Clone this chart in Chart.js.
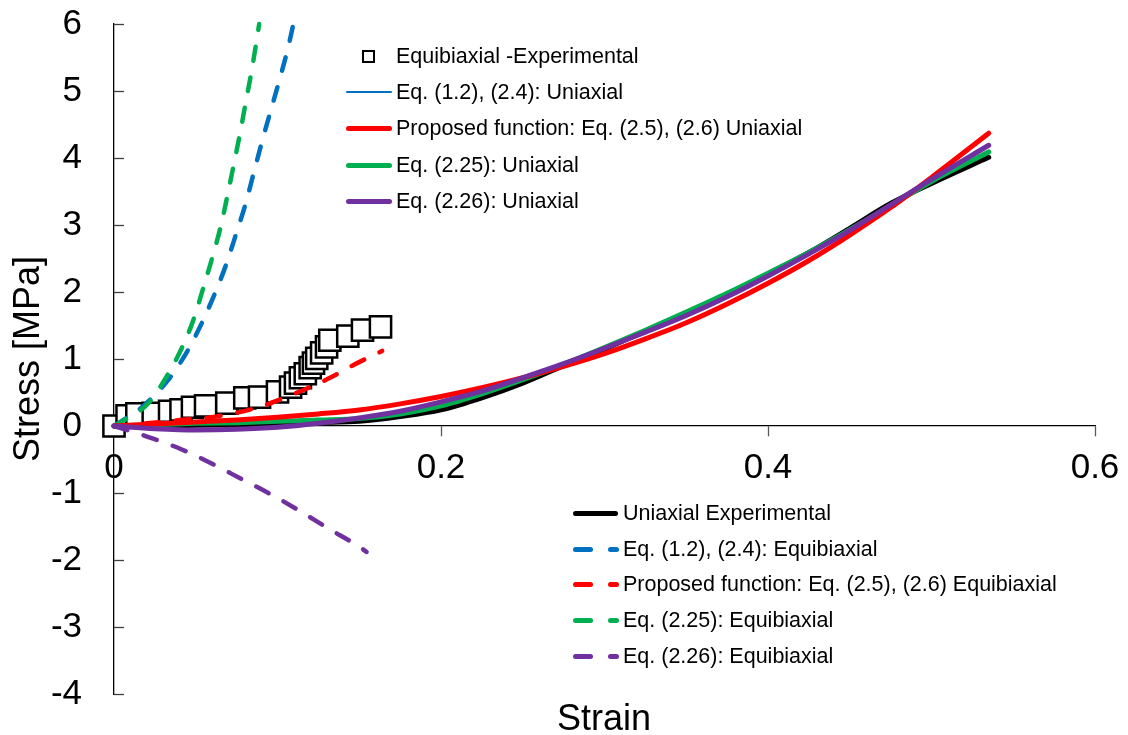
<!DOCTYPE html>
<html>
<head>
<meta charset="utf-8">
<script src="https://cdn.jsdelivr.net/npm/chart.js@4.4.1/dist/chart.umd.min.js"></script>
<style>
html,body{margin:0;padding:0;background:#fff;}
#wrap{position:relative;width:1128px;height:735px;overflow:hidden;}
#c{position:absolute;left:0;top:0;}
.lg{position:absolute;font-family:"Liberation Sans",Arial,sans-serif;font-size:21.5px;color:#000;white-space:nowrap;line-height:26px;height:26px;transform:translateY(-50%);}
.sw{position:absolute;}
#xtitle{position:absolute;font-family:"Liberation Sans",Arial,sans-serif;font-size:36px;line-height:1;color:#000;transform:translate(-50%,-50%);white-space:nowrap;}
</style>
</head>
<body>
<div id="wrap">
<canvas id="c" width="1128" height="735"></canvas>
<div id="legend"></div>
<div id="xtitle" style="left:604px;top:718px;">Strain</div>
</div>
<script>
// ---------- data ----------
const xTicks = [0, 0.2, 0.4, 0.6];
const yTicks = [-4, -3, -2, -1, 0, 1, 2, 3, 4, 5, 6];

const equiExpStrain = [0, 0.008, 0.014, 0.024, 0.034, 0.041, 0.048, 0.056, 0.069, 0.080, 0.089, 0.100, 0.108, 0.111, 0.114, 0.117, 0.120, 0.122, 0.124, 0.127, 0.130, 0.132, 0.143, 0.152, 0.163];
const equiExpStress = [0, 0.15, 0.18, 0.19, 0.22, 0.24, 0.28, 0.30, 0.34, 0.42, 0.43, 0.51, 0.58, 0.64, 0.72, 0.78, 0.87, 0.94, 1.01, 1.09, 1.18, 1.28, 1.34, 1.43, 1.48];

const uniStrain = [0, 0.025, 0.05, 0.075, 0.1, 0.125, 0.15, 0.175, 0.2, 0.225, 0.25, 0.275, 0.3, 0.325, 0.35, 0.375, 0.4, 0.425, 0.45, 0.475, 0.5, 0.535];
const uniExpStress    = [0, 0.00, 0.01, 0.02, 0.03, 0.05, 0.07, 0.14, 0.24, 0.42, 0.64, 0.90, 1.15, 1.42, 1.69, 1.97, 2.27, 2.59, 2.95, 3.32, 3.62, 4.01];
const uniEq12Stress   = [0, 0.02, 0.04, 0.05, 0.07, 0.09, 0.11, 0.18, 0.30, 0.48, 0.69, 0.92, 1.17, 1.43, 1.70, 1.98, 2.28, 2.59, 2.93, 3.29, 3.65, 4.09];
const uniPropStress   = [0, 0.03, 0.06, 0.09, 0.13, 0.18, 0.24, 0.33, 0.44, 0.57, 0.72, 0.89, 1.08, 1.30, 1.54, 1.82, 2.13, 2.47, 2.85, 3.26, 3.71, 4.37];
const uniEq225Stress  = [0, 0.02, 0.04, 0.05, 0.07, 0.09, 0.11, 0.18, 0.30, 0.48, 0.69, 0.92, 1.17, 1.43, 1.70, 1.98, 2.28, 2.59, 2.93, 3.29, 3.65, 4.09];
const uniEq226Stress  = [0, -0.04, -0.06, -0.05, -0.02, 0.04, 0.12, 0.22, 0.36, 0.52, 0.72, 0.93, 1.16, 1.40, 1.65, 1.93, 2.24, 2.57, 2.92, 3.30, 3.68, 4.19];

const equiEq12Strain = [0, 0.018, 0.0332, 0.044, 0.0526, 0.0607, 0.0683, 0.0746, 0.0805, 0.0856, 0.0907, 0.0960, 0.1015, 0.1066, 0.1097];
const equiEq12Stress = [0, 0.30, 0.69, 1.08, 1.48, 1.92, 2.39, 2.86, 3.32, 3.79, 4.26, 4.72, 5.19, 5.66, 6.0];

const equiPropStrain = [0, 0.02, 0.045, 0.062, 0.087, 0.102, 0.118, 0.133, 0.144, 0.164];
const equiPropStress = [0, 0.04, 0.10, 0.14, 0.27, 0.40, 0.56, 0.73, 0.88, 1.12];

const equiEq225Strain = [0, 0.021, 0.0322, 0.0414, 0.0485, 0.0546, 0.0603, 0.0652, 0.0693, 0.0734, 0.0775, 0.0805, 0.0846, 0.0888];
const equiEq225Stress = [0, 0.34, 0.74, 1.16, 1.58, 2.06, 2.53, 2.97, 3.43, 3.92, 4.42, 4.82, 5.36, 6.0];

const equiEq226Strain = [0, 0.023, 0.0414, 0.0597, 0.0771, 0.0944, 0.1117, 0.1311, 0.1505, 0.1545];
const equiEq226Stress = [0, -0.18, -0.35, -0.56, -0.78, -1.00, -1.24, -1.53, -1.81, -1.88];

const legendTopLabels = ["Equibiaxial -Experimental", "Eq. (1.2), (2.4): Uniaxial", "Proposed function: Eq. (2.5), (2.6) Uniaxial", "Eq. (2.25): Uniaxial", "Eq. (2.26): Uniaxial"];
const legendBottomLabels = ["Uniaxial Experimental", "Eq. (1.2), (2.4): Equibiaxial", "Proposed function: Eq. (2.5), (2.6) Equibiaxial", "Eq. (2.25): Equibiaxial", "Eq. (2.26): Equibiaxial"];

// ---------- styling ----------
const BLUE = '#0070C0', RED = '#FF0000', GREEN = '#00B050', PURPLE = '#7030A0', BLACK = '#000000';
const DASH = [14, 17];

function pts(xs, ys) { return xs.map((x, i) => ({ x: x, y: ys[i] })); }

function lineDs(label, xs, ys, color, width, dashed, order) {
  return {
    label: label,
    data: pts(xs, ys),
    showLine: true,
    borderColor: color,
    backgroundColor: color,
    borderWidth: width,
    borderDash: dashed ? DASH : [],
    borderCapStyle: 'round',
    borderJoinStyle: 'round',
    pointRadius: 0,
    pointHoverRadius: 0,
    cubicInterpolationMode: 'monotone',
    clip: false,
    order: order
  };
}

const datasets = [
  {
    label: legendTopLabels[0],
    data: pts(equiExpStrain, equiExpStress),
    pointStyle: 'rect',
    pointRadius: 15,
    pointHoverRadius: 15,
    borderColor: BLACK,
    backgroundColor: '#ffffff',
    borderWidth: 2.5,
    showLine: false,
    clip: false,
    order: 30
  },
  lineDs(legendTopLabels[1], uniStrain, uniEq12Stress, BLUE, 2, false, 6),
  lineDs(legendTopLabels[2], uniStrain, uniPropStress, RED, 5, false, 2),
  lineDs(legendTopLabels[3], uniStrain, uniEq225Stress, GREEN, 5, false, 3),
  lineDs(legendTopLabels[4], uniStrain, uniEq226Stress, PURPLE, 5, false, 1),
  lineDs(legendBottomLabels[0], uniStrain, uniExpStress, BLACK, 5, false, 5),
  lineDs(legendBottomLabels[1], equiEq12Strain, equiEq12Stress, BLUE, 4.5, true, 10),
  lineDs(legendBottomLabels[2], equiPropStrain, equiPropStress, RED, 4.5, true, 8),
  lineDs(legendBottomLabels[3], equiEq225Strain, equiEq225Stress, GREEN, 4.5, true, 9),
  lineDs(legendBottomLabels[4], equiEq226Strain, equiEq226Stress, PURPLE, 4.5, true, 7)
];

const innerTicks = {
  id: 'innerTicks',
  beforeDatasetsDraw(chart) {
    const ys = chart.scales.y;
    const ctx = chart.ctx;
    const x0 = chart.chartArea.left;
    ctx.save();
    ctx.strokeStyle = '#404040';
    ctx.lineWidth = 1.3;
    ys.ticks.forEach(t => {
      const py = Math.round(ys.getPixelForValue(t.value)) + 0.5;
      ctx.beginPath();
      ctx.moveTo(x0, py);
      ctx.lineTo(x0 + 10, py);
      ctx.stroke();
    });
    ctx.restore();
  }
};

const FONT = "'Liberation Sans', Arial, sans-serif";

new Chart(document.getElementById('c'), {
  type: 'scatter',
  data: { datasets: datasets },
  options: {
    responsive: false,
    animation: false,
    devicePixelRatio: 1,
    layout: { padding: { left: 0, top: 24, right: 33, bottom: 41 } },
    plugins: { legend: { display: false }, tooltip: { enabled: false } },
    events: [],
    scales: {
      x: {
        type: 'linear',
        position: { y: 0 },
        min: xTicks[0],
        max: xTicks[xTicks.length - 1],
        afterBuildTicks(scale) { scale.ticks = xTicks.map(v => ({ value: v })); },
        afterFit(scale) { scale.paddingLeft = 0; scale.paddingRight = 0; },
        ticks: {
          font: { family: FONT, size: 35 },
          color: '#000',
          padding: 11,
          maxRotation: 0,
          callback: v => String(v)
        },
        grid: { display: true, drawOnChartArea: false, drawTicks: true, tickLength: 10, tickColor: '#595959', tickWidth: 1.3 },
        border: { display: true, color: '#000', width: 1.3 }
      },
      y: {
        type: 'linear',
        position: 'left',
        min: yTicks[0],
        max: yTicks[yTicks.length - 1],
        afterBuildTicks(scale) { scale.ticks = yTicks.map(v => ({ value: v })); },
        afterFit(scale) { scale.width = 114; scale.paddingTop = 0; scale.paddingBottom = 0; },
        ticks: {
          font: { family: FONT, size: 35 },
          color: '#000',
          padding: 32,
          callback: v => String(v)
        },
        grid: { display: true, drawOnChartArea: false, drawTicks: false },
        border: { display: true, color: '#000', width: 1.3 },
        title: {
          display: true,
          text: 'Stress [MPa]',
          font: { family: FONT, size: 36 },
          color: '#000',
          padding: { top: 7, bottom: 0 }
        }
      }
    }
  },
  plugins: [innerTicks]
});

// ---------- legends (HTML text) ----------
const legend = document.getElementById('legend');
function addText(label, left, cy) {
  const d = document.createElement('div');
  d.className = 'lg';
  d.style.left = left + 'px';
  d.style.top = cy + 'px';
  d.textContent = label;
  legend.appendChild(d);
}
function addBar(left, width, cy, h, color) {
  const s = document.createElement('div');
  s.className = 'sw';
  s.style.left = left + 'px';
  s.style.width = width + 'px';
  s.style.top = (cy - h / 2) + 'px';
  s.style.height = h + 'px';
  s.style.background = color;
  s.style.borderRadius = (h / 2) + 'px';
  legend.appendChild(s);
}
const topRows = [56, 92, 128, 165, 201];
const topColors = [null, BLUE, RED, GREEN, PURPLE];
const topWidths = [0, 2, 5, 5, 5];
legendTopLabels.forEach((lab, i) => {
  const cy = topRows[i];
  if (i === 0) {
    const sq = document.createElement('div');
    sq.className = 'sw';
    sq.style.left = '362px';
    sq.style.top = (cy - 6.5) + 'px';
    sq.style.width = '13px';
    sq.style.height = '13px';
    sq.style.boxSizing = 'border-box';
    sq.style.border = '2.5px solid #000';
    sq.style.background = '#fff';
    legend.appendChild(sq);
  } else {
    addBar(346, 46, cy, topWidths[i], topColors[i]);
  }
  addText(lab, 396, cy);
});
const botRows = [513, 549, 584, 620, 656];
const botColors = [BLACK, BLUE, RED, GREEN, PURPLE];
legendBottomLabels.forEach((lab, i) => {
  const cy = botRows[i];
  if (i === 0) {
    addBar(573, 45, cy, 5, BLACK);
  } else {
    addBar(573, 20, cy, 5, botColors[i]);
    addBar(608, 11, cy, 5, botColors[i]);
  }
  addText(lab, 623, cy);
});
</script>
</body>
</html>
